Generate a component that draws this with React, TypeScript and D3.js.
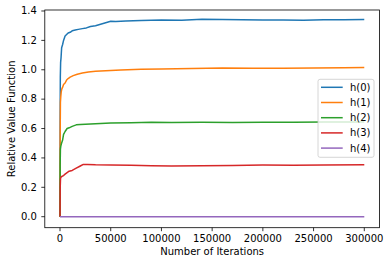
import React from 'react';
import * as d3 from 'd3';

// iterations and values, one pair of arrays per series
const h0Iter = [0, 100, 300, 600, 1000, 1600, 2500, 3500, 5000, 6500, 8000, 10000, 12000, 15000, 18000, 22000, 26000, 30000, 35000, 40000, 45000, 50000, 55000, 65000, 80000, 100000, 120000, 140000, 160000, 180000, 200000, 220000, 240000, 260000, 280000, 300000];
const h0Vals = [0, 0.6, 0.95, 1.05, 1.08, 1.15, 1.17, 1.2, 1.23, 1.24, 1.25, 1.255, 1.265, 1.27, 1.275, 1.28, 1.285, 1.295, 1.3, 1.31, 1.32, 1.33, 1.328, 1.332, 1.335, 1.338, 1.337, 1.343, 1.342, 1.341, 1.338, 1.339, 1.337, 1.34, 1.341, 1.342];

const h1Iter = [0, 150, 400, 800, 1200, 1800, 2500, 3500, 5000, 6500, 8000, 10000, 13000, 17000, 22000, 28000, 35000, 45000, 60000, 80000, 100000, 130000, 160000, 190000, 220000, 250000, 280000, 300000];
const h1Vals = [0, 0.55, 0.78, 0.82, 0.85, 0.87, 0.88, 0.9, 0.91, 0.93, 0.94, 0.95, 0.96, 0.97, 0.978, 0.985, 0.99, 0.993, 0.998, 1.003, 1.006, 1.008, 1.012, 1.01, 1.011, 1.012, 1.013, 1.015];

const h2Iter = [0, 150, 400, 800, 1500, 2500, 3500, 5000, 7000, 9000, 12000, 16000, 20000, 25000, 35000, 50000, 70000, 90000, 110000, 140000, 170000, 200000, 230000, 260000, 300000];
const h2Vals = [0, 0.35, 0.46, 0.48, 0.5, 0.52, 0.56, 0.58, 0.6, 0.605, 0.615, 0.625, 0.628, 0.63, 0.633, 0.638, 0.64, 0.643, 0.641, 0.642, 0.641, 0.643, 0.642, 0.644, 0.645];

const h3Iter = [0, 200, 500, 1000, 2000, 3500, 5000, 7000, 9000, 12000, 16000, 20000, 23000, 27000, 35000, 50000, 70000, 90000, 110000, 140000, 170000, 200000, 230000, 260000, 300000];
const h3Vals = [0, 0.2, 0.26, 0.27, 0.275, 0.28, 0.29, 0.3, 0.31, 0.315, 0.33, 0.345, 0.356, 0.355, 0.353, 0.352, 0.35, 0.347, 0.345, 0.347, 0.349, 0.351, 0.35, 0.352, 0.353];

const h4Iter = [0, 300000];
const h4Vals = [0, 0];

const labels = ['h(0)', 'h(1)', 'h(2)', 'h(3)', 'h(4)'];
const colors = ['#1f77b4', '#ff7f0e', '#2ca02c', '#d62728', '#9467bd'];
const xTicks = [0, 50000, 100000, 150000, 200000, 250000, 300000];
const yTicks = [0, 0.2, 0.4, 0.6, 0.8, 1.0, 1.2, 1.4];

const W = 389, H = 265;
const L = 44.8, R = 379.5, T = 10, B = 227.7;

const App = () => {
  const x = d3.scaleLinear().domain([-15000, 315000]).range([L, R]);
  const y = d3.scaleLinear().domain([-0.0749, 1.4068]).range([B, T]);

  const series = [
    [h0Iter, h0Vals],
    [h1Iter, h1Vals],
    [h2Iter, h2Vals],
    [h3Iter, h3Vals],
    [h4Iter, h4Vals],
  ];

  const line = d3.line<[number, number]>()
    .x(d => x(d[0]))
    .y(d => y(d[1]));

  const font = '"DejaVu Sans", sans-serif';
  const legX = 318, legY = 79.3;

  return (
    <svg width={W} height={H} style={{ position: 'absolute', left: 0, top: 0 }} fontFamily={font}>
      <rect x={0} y={0} width={W} height={H} fill="#fff" />
      <clipPath id="plot">
        <rect x={L} y={T} width={R - L} height={B - T} />
      </clipPath>
      <g clipPath="url(#plot)">
        {series.map((s, i) => (
          <path
            key={i}
            d={line(s[0].map((v, j) => [v, s[1][j]] as [number, number])) || ''}
            fill="none"
            stroke={colors[i]}
            strokeWidth={1.5}
            strokeLinejoin="round"
          />
        ))}
      </g>

      {/* spines */}
      <rect x={L} y={T} width={R - L} height={B - T} fill="none" stroke="#000" strokeWidth={0.8} />

      {/* x axis */}
      {xTicks.map(t => (
        <g key={t} transform={`translate(${x(t)},${B})`}>
          <line y2={3.5} stroke="#000" strokeWidth={0.8} />
          <text y={14.5} textAnchor="middle" fontSize={10} fill="#000">{t}</text>
        </g>
      ))}
      <text x={(L + R) / 2} y={254.5} textAnchor="middle" fontSize={10} fill="#000">Number of Iterations</text>

      {/* y axis */}
      {yTicks.map(t => (
        <g key={t} transform={`translate(${L},${y(t)})`}>
          <line x2={-3.5} stroke="#000" strokeWidth={0.8} />
          <text x={-8} dy="0.32em" textAnchor="end" fontSize={10} fill="#000">{t.toFixed(1)}</text>
        </g>
      ))}
      <text transform={`translate(14.5,${(T + B) / 2}) rotate(-90)`} textAnchor="middle" fontSize={10} fill="#000">Relative Value Function</text>

      {/* legend */}
      <rect x={legX} y={legY} width={56} height={78} rx={2} fill="#fff" fillOpacity={0.8} stroke="#cccccc" strokeWidth={0.8} />
      {labels.map((lab, i) => (
        <g key={lab} transform={`translate(${legX},${legY + 8 + i * 15.2})`}>
          <line x1={3} x2={24.7} stroke={colors[i]} strokeWidth={1.5} />
          <text x={32} dy="0.35em" fontSize={10} fill="#000">{lab}</text>
        </g>
      ))}
    </svg>
  );
};

export default App;
